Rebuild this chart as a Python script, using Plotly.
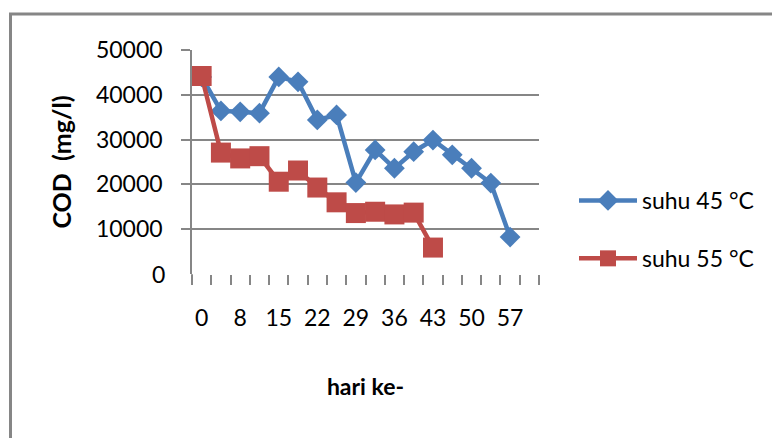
import plotly.graph_objects as go

# Sampling days (category axis); every other day is labelled
days = ["0", "4", "8", "11", "15", "18", "22", "25", "29",
        "32", "36", "39", "43", "46", "50", "53", "57", "60"]
labelled_days = ["0", "8", "15", "22", "29", "36", "43", "50", "57"]

# COD (mg/l) per sampling day
cod_45 = [44000, 36400, 36200, 35900, 44000, 42900, 34400, 35500, 20400,
          27700, 23600, 27300, 29900, 26600, 23600, 20300, 8250]
cod_55 = [44200, 27100, 25800, 26300, 20600, 23100, 19300, 16000, 13600,
          13900, 13300, 13700, 5900]

y_ticks = [10000, 20000, 30000, 40000, 50000]

BLUE = "#4A7EBB"
RED = "#BE4B48"
GRAY = "#868686"
FONT = "Lato"

fig = go.Figure()
fig.add_trace(go.Scatter(
    x=days[:len(cod_45)], y=cod_45, name="suhu 45 °C", legendgroup="a",
    mode="lines+markers",
    line=dict(color=BLUE, width=4.5),
    marker=dict(symbol="diamond", size=16, color=BLUE),
))
fig.add_trace(go.Scatter(
    x=days[:len(cod_55)], y=cod_55, name="suhu 55 °C", legendgroup="b",
    mode="lines+markers",
    line=dict(color=RED, width=4.5),
    marker=dict(symbol="square", size=20, color=RED),
))

L, R, T, B = 192, 233, 50, 164
W, H = 772, 438
pw, ph = W - L - R, H - T - B


def px_x(p):
    return (p - L) / pw


def px_y(p):
    return (H - B - p) / ph


fig.update_layout(
    width=W, height=H,
    margin=dict(l=L, r=R, t=T, b=B),
    paper_bgcolor="white", plot_bgcolor="white",
    font=dict(family=FONT, size=23, color="#000000"),
    showlegend=True,
    legend=dict(
        x=px_x(574), y=px_y(179), xanchor="left", yanchor="top",
        font=dict(family=FONT, size=23, color="#000000"),
        itemwidth=58, itemsizing="trace",
        tracegroupgap=25, traceorder="grouped",
        bgcolor="rgba(0,0,0,0)",
    ),
    xaxis=dict(
        type="category", categoryorder="array", categoryarray=days,
        range=[-0.5, len(days) - 0.5],
        tickmode="array", tickvals=days,
        ticktext=[d if d in labelled_days else "" for d in days],
        tickangle=0,
        tickson="boundaries", ticks="outside", ticklen=10,
        tickcolor=GRAY, tickwidth=1.5,
        showline=False, showgrid=False, zeroline=False,
        ticklabelstandoff=28,
        tickfont=dict(family=FONT, size=23, color="#000000"),
        title=dict(text="<b>hari ke-</b>", standoff=48,
                   font=dict(family=FONT, size=23, color="#000000")),
    ),
    yaxis=dict(
        range=[0, 50000], tickmode="array", tickvals=y_ticks,
        ticktext=[str(v) for v in y_ticks],
        ticks="outside", ticklen=9, tickcolor=GRAY, tickwidth=1.5,
        showgrid=True, gridcolor=GRAY, gridwidth=1.5,
        showline=True, linecolor=GRAY, linewidth=1.5,
        zeroline=False, ticklabelstandoff=14,
        tickfont=dict(family=FONT, size=23, color="#000000"),
        title=dict(text="<b>COD\u00a0 (mg/l)</b>", standoff=17,
                   font=dict(family=FONT, size=25, color="#000000")),
    ),
    shapes=[
        # outer chart frame
        dict(type="rect", xref="paper", yref="paper",
             x0=px_x(10.5), x1=px_x(800), y0=px_y(470), y1=px_y(14),
             line=dict(color=GRAY, width=3), fillcolor="rgba(0,0,0,0)",
             layer="below"),
        # y axis line continues down to the category tick marks
        dict(type="line", xref="paper", yref="paper",
             x0=0, x1=0, y0=0, y1=px_y(284),
             line=dict(color=GRAY, width=1.5)),
    ],
    annotations=[
        dict(text="0", x=0, y=0, xref="paper", yref="y",
             xanchor="right", yanchor="middle", xshift=-25, showarrow=False,
             font=dict(family=FONT, size=23, color="#000000")),
    ],
)

fig.write_html("out.html")
